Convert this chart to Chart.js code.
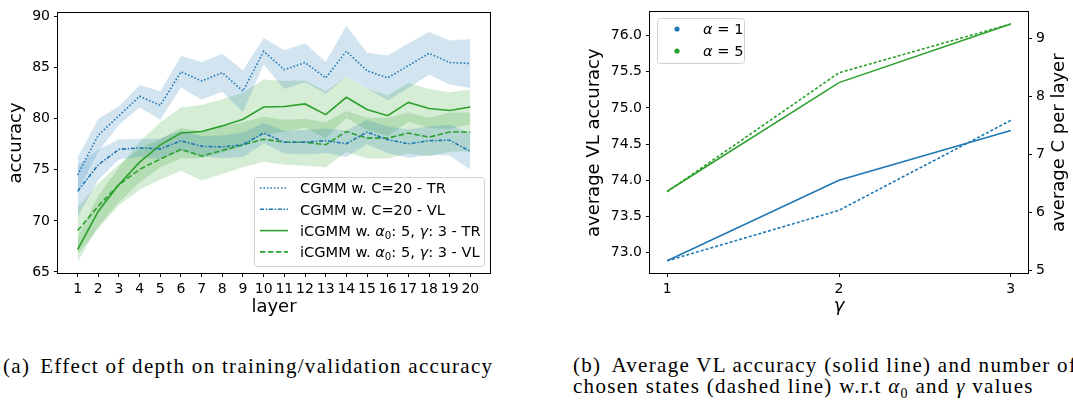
<!DOCTYPE html>
<html>
<head>
<meta charset="utf-8">
<script src="https://cdn.jsdelivr.net/npm/chart.js@4/dist/chart.umd.min.js"></script>
<style>
	body { margin: 0; background: #fff; width: 1073px; height: 401px; overflow: hidden; position: relative; }
	.painel { position: absolute; top: 0; height: 330px; }
	.legenda { position: absolute; font-family: "Liberation Serif", serif; font-size: 21px; letter-spacing: 1.3px; white-space: nowrap; color: #000; line-height: 21px; }
</style>
</head>
<body>
<div class="painel" style="left:0;width:500px"><canvas id="graficoCamadas"></canvas></div>
<div class="painel" style="left:560px;width:513px"><canvas id="graficoGamma"></canvas></div>
<div class="legenda" style="left:3px;top:356px">(a)<span style="margin-left:10px">Effect of depth on training/validation accuracy</span></div>
<div class="legenda" style="left:573px;top:355px">(b)<span style="margin-left:10px">Average VL accuracy (solid line) and number of</span><br>chosen states (dashed line) w.r.t <i>α</i><sub style="font-size:14px">0</sub> and <i>γ</i> values</div>
<script>
// (a) accuracy per layer
var camadas = [1, 2, 3, 4, 5, 6, 7, 8, 9, 10, 11, 12, 13, 14, 15, 16, 17, 18, 19, 20];
var cgmmTr = [74.5, 78.4, 80.3, 82.2, 81.3, 84.6, 83.7, 84.5, 82.7, 86.6, 84.8, 85.5, 84.0, 86.6, 84.7, 84.0, 85.2, 86.4, 85.5, 85.4];
var cgmmTrStd = [1.7, 1.6, 0.9, 1.1, 1.4, 1.55, 1.85, 1.85, 2.05, 1.3, 1.9, 1.9, 1.55, 2.5, 1.75, 2.2, 2.2, 2.1, 2.15, 2.4];
var cgmmVl = [72.9, 75.5, 77.0, 77.15, 77.05, 77.85, 77.3, 77.25, 77.45, 78.6, 77.7, 77.7, 77.85, 77.55, 78.7, 77.95, 77.55, 77.85, 77.9, 76.8];
var cgmmVlStd = [2.5, 1.5, 1.0, 0.9, 1.0, 1.0, 1.0, 1.1, 1.2, 1.0, 1.1, 1.2, 1.2, 1.3, 1.2, 1.3, 1.4, 1.4, 1.5, 1.8];
var icgmmTr = [67.2, 70.95, 73.55, 75.75, 77.45, 78.6, 78.75, 79.3, 79.95, 81.15, 81.2, 81.45, 80.4, 82.1, 80.9, 80.3, 81.6, 81.0, 80.8, 81.15];
var icgmmTrStd = [1.2, 1.5, 1.7, 2.0, 2.2, 2.5, 2.6, 2.6, 2.6, 2.7, 2.5, 2.3, 2.3, 2.0, 2.0, 2.0, 1.9, 1.9, 1.8, 1.7];
var icgmmVl = [69.05, 71.45, 73.55, 75.05, 76.05, 77.0, 76.35, 76.9, 77.45, 78.0, 77.7, 77.7, 77.45, 78.75, 78.1, 78.1, 78.6, 78.2, 78.7, 78.7];
var icgmmVlStd = [2.3, 2.2, 2.0, 2.0, 2.0, 2.1, 2.4, 2.3, 2.2, 2.2, 2.2, 2.3, 2.2, 2.0, 2.0, 2.0, 2.0, 1.9, 1.9, 1.9];
var ticksAcuracia = [65, 70, 75, 80, 85, 90];

// (b) average VL accuracy and C per layer
var gammas = [1, 2, 3];
var acuraciaAlfa1 = [72.89, 74.0, 74.69];
var estadosAlfa1 = [5.17, 6.04, 7.59];
var acuraciaAlfa5 = [73.85, 75.35, 76.16];
var estadosAlfa5 = [6.36, 8.41, 9.25];
var ticksAcuraciaVL = [73.0, 73.5, 74.0, 74.5, 75.0, 75.5, 76.0];
var ticksEstados = [5, 6, 7, 8, 9];

var AZUL = '#1f77b4', VERDE = '#2ca02c';
var AZUL_FAIXA = 'rgba(31,119,180,0.2)', VERDE_FAIXA = 'rgba(44,160,44,0.2)';

Chart.defaults.font.family = '"DejaVu Sans"';
Chart.defaults.color = '#000';

function pontos(xs, ys) {
	return xs.map(function(x, i) { return { x: x, y: ys[i] }; });
}

function desenharTexto(ctx, partes, x, y, tamanho) {
	partes.forEach(function(p) {
		var t = p.sub ? tamanho * 0.7 : tamanho;
		ctx.font = (p.it ? 'italic ' : '') + t + 'px "DejaVu Sans"';
		ctx.fillText(p.t, x, y + (p.sub ? tamanho * 0.22 : 0));
		x += ctx.measureText(p.t).width;
	});
}

function caixa(ctx, x, y, w, h) {
	ctx.save();
	ctx.beginPath();
	ctx.roundRect(x + 0.5, y + 0.5, w, h, 3);
	ctx.fillStyle = 'rgba(255,255,255,0.8)';
	ctx.fill();
	ctx.strokeStyle = '#d0d0d0';
	ctx.lineWidth = 1;
	ctx.stroke();
	ctx.restore();
}

function moldura(chart) {
	var a = chart.chartArea, ctx = chart.ctx;
	ctx.save();
	ctx.strokeStyle = '#000';
	ctx.lineWidth = 1;
	ctx.strokeRect(Math.round(a.left) - 0.5, Math.round(a.top) - 0.5, Math.round(a.right - a.left) + 1, Math.round(a.bottom - a.top) + 1);
	ctx.restore();
}

function eixo(ticks, extra) {
	var e = {
		type: 'linear',
		grid: { drawOnChartArea: false, drawTicks: true, tickLength: 4, color: '#000' },
		border: { display: false },
		ticks: { font: { size: 14 }, padding: 4, autoSkip: false, maxRotation: 0 },
		afterBuildTicks: function(s) { s.ticks = ticks.map(function(v) { return { value: v }; }); }
	};
	for (var k in extra) e[k] = extra[k];
	return e;
}

var Grafico = Grafico || {};

Grafico.Camadas = (function() {

	function Camadas() {
		this.ctx = document.getElementById('graficoCamadas').getContext('2d');
	}

	var itens = [
		{ cor: AZUL, traco: [1.5, 2], partes: [{ t: 'CGMM w. C=20 - TR' }] },
		{ cor: AZUL, traco: [4, 1.7, 1.5, 1.7], partes: [{ t: 'CGMM w. C=20 - VL' }] },
		{ cor: VERDE, traco: [], partes: [{ t: 'iCGMM w. ' }, { t: 'α', it: true }, { t: '0', sub: true }, { t: ': 5, ' }, { t: 'γ', it: true }, { t: ': 3 - TR' }] },
		{ cor: VERDE, traco: [5.5, 2.5], partes: [{ t: 'iCGMM w. ' }, { t: 'α', it: true }, { t: '0', sub: true }, { t: ': 5, ' }, { t: 'γ', it: true }, { t: ': 3 - VL' }] }
	];

	function faixa(media, std, cor) {
		var baixo = media.map(function(v, i) { return v - std[i]; });
		var alto = media.map(function(v, i) { return v + std[i]; });
		return [
			{ data: pontos(camadas, baixo), borderWidth: 0, pointRadius: 0, fill: false },
			{ data: pontos(camadas, alto), borderWidth: 0, pointRadius: 0, fill: '-1', backgroundColor: cor }
		];
	}

	function linha(dados, cor, traco) {
		return { data: pontos(camadas, dados), borderColor: cor, borderWidth: 1.6, borderDash: traco, pointRadius: 0, fill: false, tension: 0 };
	}

	Camadas.prototype.iniciar = function() {
		var datasets = [
			linha(cgmmTr, AZUL, itens[0].traco),
			linha(cgmmVl, AZUL, itens[1].traco),
			linha(icgmmTr, VERDE, itens[2].traco),
			linha(icgmmVl, VERDE, itens[3].traco)
		].concat(faixa(cgmmTr, cgmmTrStd, AZUL_FAIXA), faixa(cgmmVl, cgmmVlStd, AZUL_FAIXA),
			faixa(icgmmTr, icgmmTrStd, VERDE_FAIXA), faixa(icgmmVl, icgmmVlStd, VERDE_FAIXA));

		new Chart(this.ctx, {
			type: 'line',
			data: { datasets: datasets },
			options: {
				responsive: true,
				maintainAspectRatio: false,
				animation: false,
				layout: { padding: { top: 13, right: 10, left: 0, bottom: 0 } },
				plugins: { legend: { display: false }, tooltip: { enabled: false }, filler: { drawTime: 'beforeDatasetsDraw' } },
				scales: {
					x: eixo(camadas, {
						min: 0.05, max: 20.95,
						title: { display: true, text: 'layer', font: { size: 18 }, padding: { top: 0, bottom: 12 } },
						afterFit: function(s) { s.height = 57; }
					}),
					y: eixo(ticksAcuracia, {
						min: 64.9, max: 90.35,
						title: { display: true, text: 'accuracy', font: { size: 18 }, padding: { top: 6, bottom: 0 } },
						afterFit: function(s) { s.width = 58; }
					})
				}
			},
			plugins: [{
				id: 'molduraCamadas',
				afterDraw: function(chart) {
					var ctx = chart.ctx;
					moldura(chart);
					caixa(ctx, 254, 177, 230, 89);
					ctx.save();
					itens.forEach(function(it, i) {
						var cy = 188 + i * 21.3;
						ctx.strokeStyle = it.cor;
						ctx.lineWidth = 1.6;
						ctx.setLineDash(it.traco);
						ctx.beginPath();
						ctx.moveTo(260, cy);
						ctx.lineTo(288, cy);
						ctx.stroke();
						ctx.fillStyle = '#000';
						ctx.textBaseline = 'alphabetic';
						desenharTexto(ctx, it.partes, 300, cy + 5.3, 14.6);
					});
					ctx.restore();
				}
			}]
		});
	};

	return Camadas;

}());

Grafico.Gamma = (function() {

	function Gamma() {
		this.ctx = document.getElementById('graficoGamma').getContext('2d');
	}

	function linha(dados, cor, eixoY, traco) {
		return { data: pontos(gammas, dados), borderColor: cor, borderWidth: 1.6, borderDash: traco, pointRadius: 0, fill: false, yAxisID: eixoY };
	}

	Gamma.prototype.iniciar = function() {
		new Chart(this.ctx, {
			type: 'line',
			data: {
				datasets: [
					linha(acuraciaAlfa1, AZUL, 'y', []),
					linha(estadosAlfa1, AZUL, 'y1', [3, 2]),
					linha(acuraciaAlfa5, VERDE, 'y', []),
					linha(estadosAlfa5, VERDE, 'y1', [3, 2])
				]
			},
			options: {
				responsive: true,
				maintainAspectRatio: false,
				animation: false,
				layout: { padding: { top: 11, right: 0, left: 0, bottom: 0 } },
				plugins: { legend: { display: false }, tooltip: { enabled: false } },
				scales: {
					x: eixo(gammas, {
						min: 0.9, max: 3.1,
						title: { display: true, text: 'γ', font: { size: 18, style: 'italic' }, padding: { top: 0, bottom: 13 } },
						afterFit: function(s) { s.height = 57; }
					}),
					y: eixo(ticksAcuraciaVL, {
						position: 'left',
						min: 72.72, max: 76.32,
						ticks: { font: { size: 14 }, padding: 4, autoSkip: false, callback: function(v) { return v.toFixed(1); } },
						title: { display: true, text: 'average VL accuracy', font: { size: 18 }, padding: { top: 24, bottom: 0 } },
						afterFit: function(s) { s.width = 90; }
					}),
					y1: eixo(ticksEstados, {
						position: 'right',
						min: 4.96, max: 9.45,
						afterFit: function(s) { s.width = 45; }
					})
				}
			},
			plugins: [{
				id: 'molduraGamma',
				afterDraw: function(chart) {
					var ctx = chart.ctx, a = chart.chartArea;
					moldura(chart);
					ctx.save();
					ctx.translate(499, (a.top + a.bottom) / 2);
					ctx.rotate(-Math.PI / 2);
					ctx.font = '18px "DejaVu Sans"';
					ctx.fillStyle = '#000';
					ctx.textAlign = 'center';
					ctx.textBaseline = 'middle';
					ctx.fillText('average C per layer', 0, 0);
					ctx.restore();

					caixa(ctx, 97, 18, 87, 45);
					ctx.save();
					[[AZUL, '1'], [VERDE, '5']].forEach(function(e, i) {
						var cy = 29 + i * 22;
						ctx.fillStyle = e[0];
						ctx.beginPath();
						ctx.arc(117, cy, 2.6, 0, Math.PI * 2);
						ctx.fill();
						ctx.fillStyle = '#000';
						desenharTexto(ctx, [{ t: 'α', it: true }, { t: ' = ' + e[1] }], 143, cy + 5.3, 14.6);
					});
					ctx.restore();
				}
			}]
		});
	};

	return Gamma;

}());

new Grafico.Camadas().iniciar();
new Grafico.Gamma().iniciar();
</script>
</body>
</html>
